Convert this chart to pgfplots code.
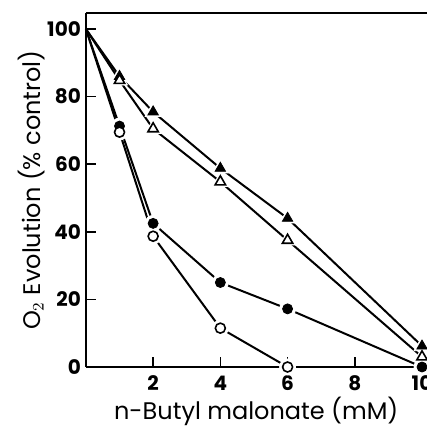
\documentclass[border=0pt]{standalone}
\usepackage{fontspec}
\setmainfont{Poppins}
\usepackage{pgfplots}
\pgfplotsset{compat=1.18}
\begin{document}
\begin{tikzpicture}[x=1pt,y=1pt]
\begin{axis}[
    scale only axis,
    width=170.3pt,
    height=176.9pt,
    xmin=0, xmax=10.134,
    ymin=0, ymax=104.7,
    axis x line=bottom,
    axis y line=left,
    axis line style={line width=0.9pt,-},
    xtick={2,4,6,8,10},
    ytick={0,20,40,60,80,100},
    tick align=inside,
    major tick length=5pt,
    tick style={line width=0.8pt,black},
    /pgf/number format/assume math mode=true,
    ticklabel style={font=\fontsize{10}{12}\selectfont\bfseries},
    xticklabel style={yshift=-1pt},
    yticklabel style={xshift=1pt},
    xlabel={n-Butyl malonate (mM)},
    ylabel={O$_2$ Evolution (\% control)},
    label style={font=\fontsize{12}{14}\selectfont},
    xlabel style={yshift=4pt},
    ylabel style={yshift=-5.5pt},
    clip=false,
]
% lines
\addplot[black, line width=1pt] coordinates {(0,100) (1,86) (2,75.5) (4,58.8) (6,44) (10,6.2)};
\addplot[black, line width=1pt] coordinates {(0,100) (1,84.8) (2,70.5) (4,54.8) (6,37.5) (10,3)};
\addplot[black, line width=1pt] coordinates {(0,100) (1,71.3) (2,42.5) (4,25) (6,17.2) (10,0)};
\addplot[black, line width=1pt] coordinates {(0,100) (1,69.5) (2,38.7) (4,11.5) (6,0)};
% white halos
\addplot[only marks, mark=triangle*, mark size=4.6pt, white] coordinates {(1,86) (2,75.5) (4,58.8) (6,44) (10,6.2)};
\addplot[only marks, mark=triangle*, mark size=4.6pt, white] coordinates {(1,84.8) (2,70.5) (4,54.8) (6,37.5) (10,3)};
\addplot[only marks, mark=*, mark size=4pt, white] coordinates {(1,71.3) (2,42.5) (4,25) (6,17.2) (10,0)};
\addplot[only marks, mark=*, mark size=4pt, white] coordinates {(1,69.5) (2,38.7) (4,11.5) (6,0)};
% marks
\addplot[only marks, mark=triangle*, mark size=3pt, black] coordinates {(1,86) (2,75.5) (4,58.8) (6,44) (10,6.2)};
\addplot[only marks, mark=triangle*, mark size=3pt, black, mark options={fill=white, line width=0.8pt}] coordinates {(1,84.8) (2,70.5) (4,54.8) (6,37.5) (10,3)};
\addplot[only marks, mark=*, mark size=2.5pt, black] coordinates {(1,71.3) (2,42.5) (4,25) (6,17.2) (10,0)};
\addplot[only marks, mark=*, mark size=2.5pt, black, mark options={fill=white, line width=0.8pt}] coordinates {(1,69.5) (2,38.7) (4,11.5) (6,0)};
\draw[line width=0.9pt] (rel axis cs:0,1) -- (rel axis cs:1,1);
\coordinate (bl) at (axis cs:-2.556,-18.05);
\coordinate (tr) at (axis cs:10.134,108.6);
\end{axis}
\pgfresetboundingbox
\path (bl) rectangle (tr);
\end{tikzpicture}
\end{document}
